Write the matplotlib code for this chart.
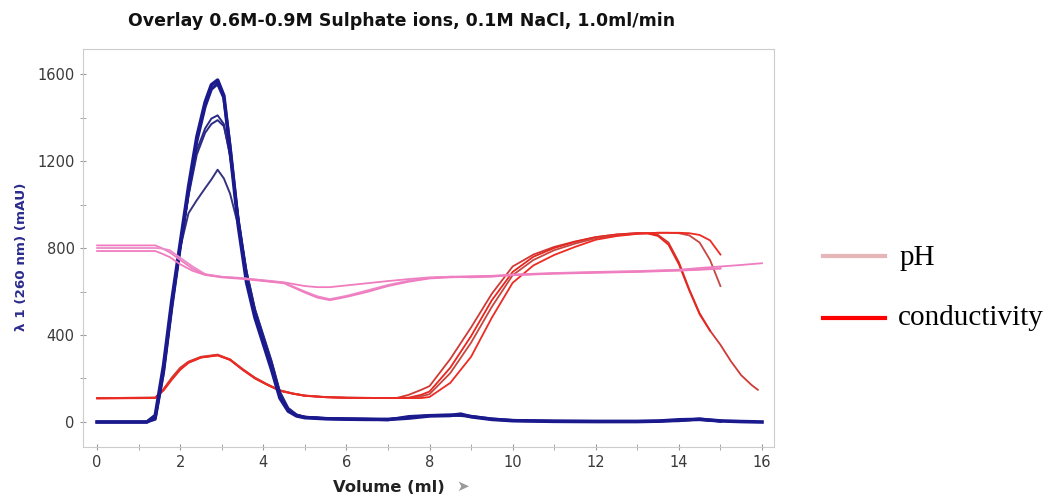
import numpy as np
import matplotlib
matplotlib.use("Agg")
from matplotlib import pyplot as plt
from matplotlib.lines import Line2D

nan = np.nan

# -------------- UV 260 nm runs (mAU) --------------
uv_x = [0, 1.2, 1.4, 1.6, 1.8, 2.0, 2.2, 2.4, 2.6, 2.75, 2.9, 3.05, 3.2, 3.4, 3.6,
        3.8, 4.0, 4.2, 4.4, 4.6, 4.8, 5.0, 5.5, 6.0, 6.5, 7.0, 7.5, 8.0, 8.5, 8.75,
        9.0, 9.5, 10.0, 11.0, 12.0, 13.0, 13.5, 14.0, 14.5, 15.0, 15.5, 16.0]
uv_run1 = [0, 0, 30, 260, 560, 820, 1080, 1310, 1470, 1550, 1572, 1500, 1250, 900, 640,
           480, 360, 240, 110, 50, 28, 20, 15, 13, 12, 12, 18, 28, 30, 36,
           24, 12, 6, 3, 2, 2, 4, 10, 12, 5, 2, 0]
uv_run2 = [0, 0, 15, 230, 530, 800, 1060, 1290, 1450, 1530, 1555, 1490, 1270, 920, 660,
           500, 380, 260, 120, 55, 30, 22, 16, 14, 13, 10, 25, 30, 32, 30,
           26, 14, 7, 4, 3, 3, 4, 6, 14, 4, nan, nan]
uv_run3 = [0, 0, 20, 240, 540, 800, 1050, 1250, 1350, 1395, 1410, 1370, 1220, 930, 680,
           510, 390, 270, 130, 60, 32, 22, 16, 14, 13, 12, 20, 28, 30, 32,
           25, 13, 6, 3, 2, 2, 3, 8, 10, 3, nan, nan]
uv_run4 = [0, 0, 18, 235, 535, 800, 1040, 1230, 1330, 1370, 1388, 1360, 1230, 940, 690,
           515, 395, 275, 135, 62, 33, 23, 17, 15, 14, 13, 22, 29, 31, 33,
           26, 13, 6, 3, 2, 2, 3, 9, 12, 4, nan, nan]
uv_run5 = [0, 0, 10, 220, 520, 800, 960, 1020, 1075, 1115, 1160, 1120, 1050, 900, 690,
           520, 400, 280, 140, 65, 35, 24, 17, 15, 14, 13, 20, 27, 30, 31,
           24, 12, 6, 3, 2, 2, 3, 7, 10, 3, nan, nan]

# -------------- conductivity runs --------------
cond_x = [0, 1.4, 1.6, 1.8, 2.0, 2.2, 2.5, 2.9, 3.2, 3.5, 3.8, 4.1, 4.4, 4.7, 5.0,
          5.5, 6.0, 7.0, 7.2, 7.5, 7.8, 8.0, 8.5, 9.0, 9.5, 10.0, 10.5, 11.0, 11.5,
          12.0, 12.5, 13.0, 13.25, 13.5, 13.75, 14.0, 14.25, 14.5, 14.75, 15.0,
          15.25, 15.5, 15.75, 15.9]
cond_a = [110, 112, 150, 200, 245, 275, 298, 308, 285, 240, 200, 170, 143, 130, 120,
          114, 112, 110, 110, 125, 148, 165, 290, 435, 590, 715, 770, 805, 830,
          850, 862, 869, 868, 860, 825, 735, 610, 500, 420, 355,
          280, 215, 170, 148]
cond_b = [108, 110, 145, 195, 240, 272, 296, 306, 286, 242, 202, 172, 145, 131, 121,
          114, 111, 110, 110, 112, 125, 140, 250, 395, 560, 690, 760, 800, 828,
          850, 862, 868, 867, 855, 815, 725, 605, 495, 420, nan,
          nan, nan, nan, nan]
cond_c = [110, 112, 152, 205, 250, 278, 300, 310, 288, 244, 204, 173, 146, 132, 122,
          115, 112, 110, 110, 110, 118, 128, 225, 365, 530, 675, 745, 790, 820,
          845, 858, 866, 868, 870, 870, 868, 858, 825, 745, 625,
          nan, nan, nan, nan]
cond_d = [109, 111, 148, 198, 243, 274, 297, 307, 287, 241, 201, 171, 144, 131, 121,
          114, 111, 110, 110, 110, 110, 115, 180, 300, 480, 640, 720, 768, 805,
          838, 855, 865, 868, 870, 870, 870, 868, 860, 835, 770,
          nan, nan, nan, nan]

# -------------- pH runs --------------
ph_x = [0, 1.4, 1.55, 1.75, 2.0, 2.3, 2.6, 3.0, 3.5, 4.0, 4.5, 5.0, 5.3, 5.6, 6.0,
        6.5, 7.0, 7.5, 8.0, 8.5, 9.0, 9.5, 10, 11, 12, 13, 14, 14.5, 15, 15.5, 16]
ph_1 = [812, 812, 800, 780, 745, 705, 678, 667, 660, 652, 642, 625, 620, 620, 628,
        638, 648, 657, 665, 668, 670, 672, 678, 685, 690, 694, 700, 708, 715, 722, 730]
ph_2 = [800, 800, 798, 790, 755, 715, 680, 668, 662, 650, 640, 600, 578, 565, 580,
        605, 630, 650, 662, 668, 665, 668, 676, 683, 688, 692, 698, 702, 708, nan, nan]
ph_3 = [786, 786, 775, 758, 725, 695, 676, 665, 658, 648, 638, 595, 572, 560, 575,
        598, 625, 645, 660, 665, 668, 670, 675, 682, 686, 690, 696, 700, 705, nan, nan]

x_ticks = [0, 2, 4, 6, 8, 10, 12, 14, 16]
y_ticks = [0, 400, 800, 1200, 1600]

# -------------- PLOTTING --------------
fig = plt.figure(figsize=(10.45, 4.97), dpi=100)
ax = fig.add_axes([0.0794, 0.1006, 0.6613, 0.8008])

for ys, c in zip([cond_a, cond_b, cond_c, cond_d],
                 ['#cf3a34', '#e8251f', '#c7463f', '#ee2a22']):
    ax.plot(cond_x, ys, color=c, lw=1.3, zorder=3)

ax.plot(uv_x, uv_run5, color='#33337f', lw=1.4, zorder=4)
ax.plot(uv_x, uv_run4, color='#2a2a85', lw=1.4, zorder=4)
ax.plot(uv_x, uv_run3, color='#2a2a85', lw=1.4, zorder=4)
ax.plot(uv_x, uv_run2, color='#1c1c8c', lw=2.2, zorder=5)
ax.plot(uv_x, uv_run1, color='#1a1a8e', lw=2.6, zorder=5)

# pH traces sit on top of the others
for ys, c in zip([ph_1, ph_2, ph_3], ['#f07cbf', '#ea8cc8', '#f07cbf']):
    ax.plot(ph_x, ys, color=c, lw=1.3, zorder=6)

ax.set_xlim(-0.34, 16.29)
ax.set_ylim(-115, 1715)
ax.set_xticks(x_ticks)
ax.set_xticks(np.arange(0, 17, 1), minor=True)
ax.set_yticks(y_ticks)
ax.set_yticks(np.arange(0, 1700, 200), minor=True)
ax.tick_params(axis='both', which='both', direction='inout', length=5,
               color='#999999', labelsize=10.5, labelcolor='#3a3a3a')
for s in ax.spines.values():
    s.set_color('#cccccc')

fig.text(0.384, 0.958, "Overlay 0.6M-0.9M Sulphate ions, 0.1M NaCl, 1.0ml/min",
         ha='center', va='center', fontsize=12.5, fontweight='bold', color='#111111')
fig.text(0.372, 0.02, "Volume (ml)", ha='center', va='center',
         fontsize=11.8, fontweight='bold', color='#222222')
fig.text(0.443, 0.022, "\u27a4", ha='center', va='center', fontsize=11, color='#9a9a9a')
fig.text(0.021, 0.483, "\u03bb 1 (260 nm) (mAU)", rotation=90, ha='center', va='center',
         fontsize=9.7, fontweight='bold', color='#2b2b8c')

# legend drawn outside the axes
fig.add_artist(Line2D([823 / 1045, 885 / 1045], [1 - 256 / 497, 1 - 256 / 497],
                      color='#e6b5b8', lw=3))
fig.add_artist(Line2D([823 / 1045, 885 / 1045], [1 - 318 / 497, 1 - 318 / 497],
                      color='#ff0000', lw=3))
fig.text(900 / 1045, 1 - 258 / 497, "pH", fontsize=21, family='Liberation Serif',
         va='center', ha='left')
fig.text(898 / 1045, 1 - 318 / 497, "conductivity", fontsize=21,
         family='Liberation Serif', va='center', ha='left')

fig.savefig("out.png", dpi=100)
